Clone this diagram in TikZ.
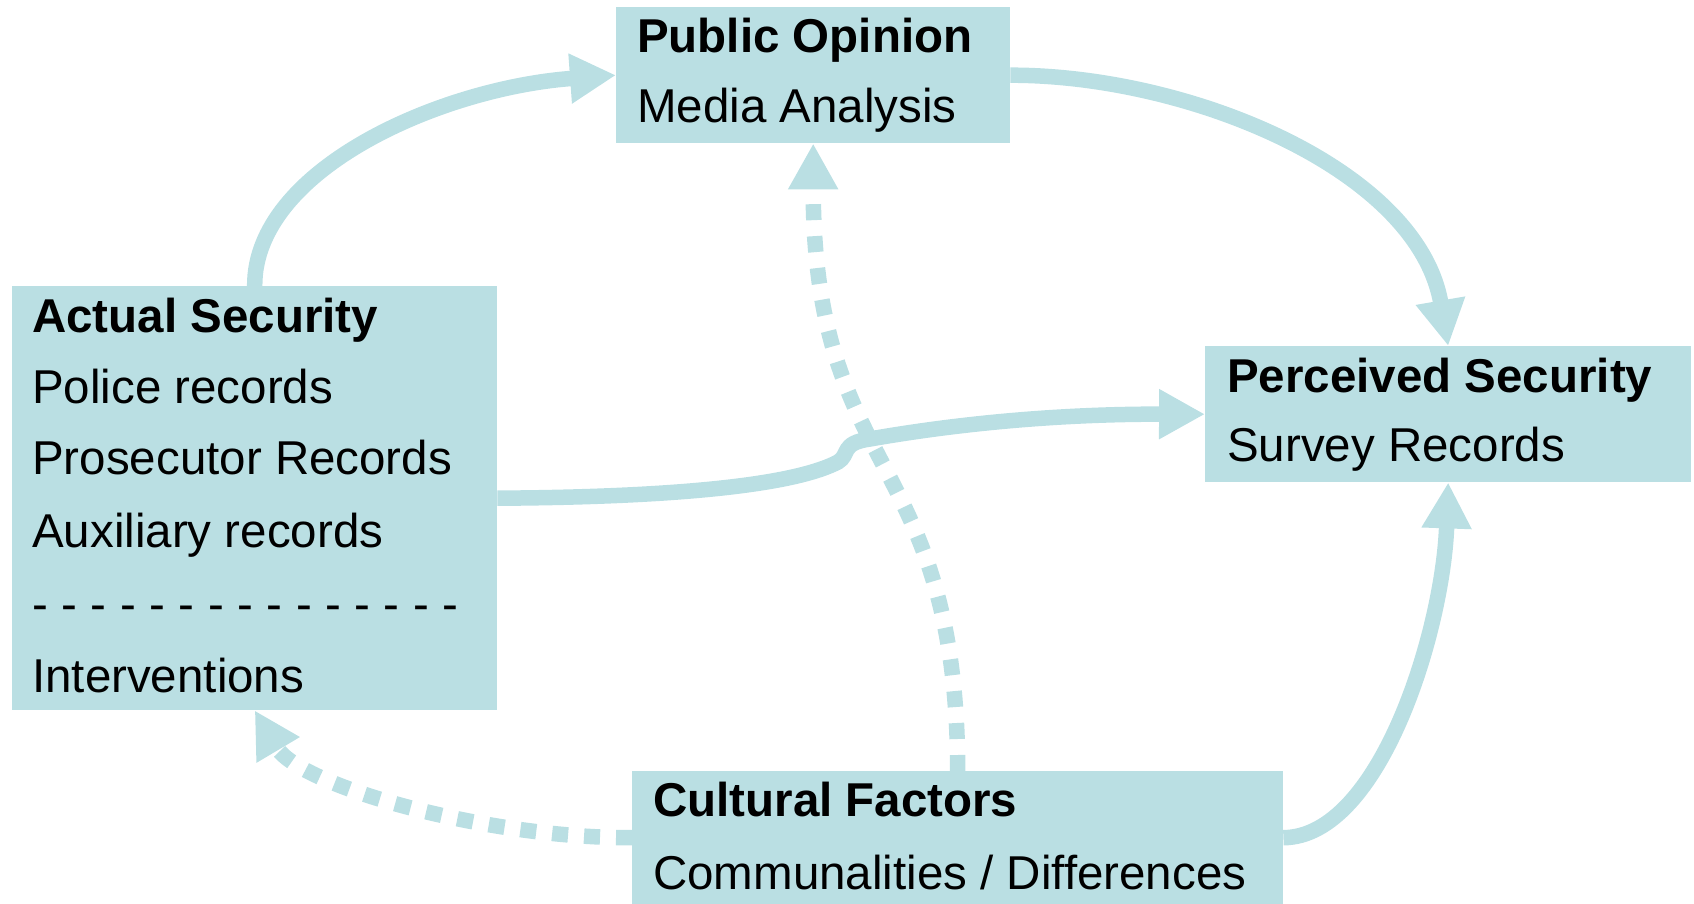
\documentclass[tikz,border=0pt]{standalone}
\usepackage{fontspec}
\setmainfont{Liberation Sans}
\usetikzlibrary{arrows.meta}
\definecolor{lb}{RGB}{186,223,227}
\newcommand\dashgap{\hspace{13.5pt}}
\begin{document}
\begin{tikzpicture}[x=1pt,y=-1pt,
  box/.style={fill=lb, draw=none, anchor=north west, inner sep=0pt, rectangle},
  txt/.style={anchor=base west, inner sep=0pt, font=\fontsize{47.5}{57}\selectfont},
  hd/.style={anchor=base west, inner sep=0pt, font=\fontsize{47.5}{57}\selectfont\bfseries},
  conn/.style={draw=lb, line width=15.5pt, -{Triangle[length=46pt,width=47pt]}},
  dconn/.style={conn, dash pattern=on 16pt off 16pt}]
\useasboundingbox (0,0) rectangle (1694,904);
% boxes
\node[box, minimum width=394pt, minimum height=136pt] (PO) at (616,7) {};
\node[box, minimum width=485pt, minimum height=424pt] (AS) at (12,286) {};
\node[box, minimum width=486pt, minimum height=136pt] (PS) at (1205,346) {};
\node[box, minimum width=651pt, minimum height=133pt] (CF) at (632,771) {};
% texts
\node[hd]  (POa) at (637,53) {Public Opinion};
\node[txt] (POb) at (637,123) {Media Analysis};
\node[hd]  (ASa) at (32,332) {Actual Security};
\node[txt] (ASb) at (32,403) {Police records};
\node[txt] (ASc) at (32,474) {Prosecutor Records};
\node[txt] (ASd) at (32,547) {Auxiliary records};
\node[txt] (ASe) at (32,620) {-\dashgap-\dashgap-\dashgap-\dashgap-\dashgap-\dashgap-\dashgap-\dashgap-\dashgap-\dashgap-\dashgap-\dashgap-\dashgap-\dashgap-};
\node[txt] (ASf) at (32,692) {Interventions};
\node[hd]  (PSa) at (1227,392) {Perceived Security};
\node[txt] (PSb) at (1227,461) {Survey Records};
\node[hd]  (CFa) at (653,816) {Cultural Factors};
\node[txt] (CFb) at (653,889) {Communalities / Differences};
% dashed connectors
\draw[dconn] (CF.north) .. controls (957,450) and (813,480) .. (PO.south);
\draw[dconn] (CF.west) .. controls (482,838) and (299,785) .. (AS.south);
% solid connectors
\draw[conn] (AS.north) .. controls (254,170) and (440,88) .. (PO.west);
\draw[conn] (PO.east) .. controls (1190,75) and (1418,170) .. (PS.north);
\coordinate (hopA) at (838,462);
\coordinate (hopB) at (870,439);
\draw[conn] (AS.east) .. controls (700,497) and (800,482) .. (hopA)
  .. controls (850,455) and (840,443) .. (hopB)
  .. controls (950,425) and (1050,414) .. (PS.west);
\draw[conn] (CF.east) .. controls (1380,837) and (1443,630) .. (PS.south);
\end{tikzpicture}
\end{document}
